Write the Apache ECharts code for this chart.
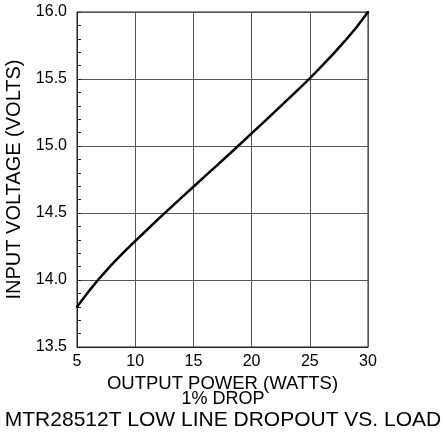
<!DOCTYPE html>
<html>
<head>
<meta charset="utf-8">
<script src="https://cdn.jsdelivr.net/npm/echarts@6/dist/echarts.min.js"></script>
<style>
html,body{margin:0;padding:0;background:#fff;}
#chart{width:446px;height:433px;}
</style>
</head>
<body>
<div id="chart"></div>
<script>
var outputPower = [5,6,7,8,9,10,11,12,13,14,15,16,17,18,19,20,21,22,23,24,25,26,27,28,29,30];
var inputVoltage = [13.800,13.915,14.020,14.116,14.206,14.290,14.373,14.456,14.537,14.617,14.696,14.775,14.854,14.933,15.013,15.094,15.175,15.256,15.338,15.421,15.505,15.594,15.686,15.782,15.884,16.000];
var titleText = 'MTR28512T LOW LINE DROPOUT VS. LOAD';
var subText = '1% DROP';
var xName = 'OUTPUT POWER (WATTS)';
var yName = 'INPUT VOLTAGE (VOLTS)';

var FONT = '"Liberation Sans", Arial, Helvetica, sans-serif';
var chart = echarts.init(document.getElementById('chart'));
var pts = outputPower.map(function(x,i){return [x, inputVoltage[i]];});
chart.setOption({
  animation:false,
  backgroundColor:'#fff',
  textStyle:{fontFamily:FONT},
  title:[{
    text:subText, left:'center', top:390, padding:0,
    textStyle:{fontSize:18, fontWeight:'normal', color:'#000', fontFamily:FONT, lineHeight:18}
  },{
    text:titleText, left:'center', top:409.5, padding:0,
    textStyle:{fontSize:21, fontWeight:'normal', color:'#000', fontFamily:FONT, lineHeight:21}
  }],
  grid:{left:77, right:78, top:12, bottom:86, show:true, borderColor:'#222', borderWidth:1,
        containLabel:false, outerBoundsMode:'none'},
  xAxis:{
    type:'value', min:5, max:30, interval:5,
    name:xName, nameLocation:'middle', nameGap:22.5,
    nameTextStyle:{fontSize:18.5, color:'#000', lineHeight:18, fontFamily:FONT},
    axisLine:{show:true, lineStyle:{color:'#222', width:1}},
    axisTick:{show:false},
    axisLabel:{fontSize:16, color:'#000', margin:7, fontFamily:FONT},
    splitLine:{show:true, lineStyle:{color:'#555', width:1}}
  },
  yAxis:{
    type:'value', min:13.5, max:16, interval:0.5,
    name:yName, nameLocation:'middle', nameGap:52,
    nameTextStyle:{fontSize:20, color:'#000', fontFamily:FONT},
    axisLine:{show:true, lineStyle:{color:'#222', width:1}},
    axisTick:{show:true, inside:true, length:4, lineStyle:{color:'#222'}},
    minorTick:{show:true, splitNumber:5, length:4, lineStyle:{color:'#222', width:1}},
    axisLabel:{fontSize:16, color:'#000', margin:10, fontFamily:FONT,
      formatter:function(v){return v.toFixed(1);}},
    splitLine:{show:true, lineStyle:{color:'#555', width:1}}
  },
  series:[{
    type:'line', data:pts, smooth:false, showSymbol:false,
    lineStyle:{color:'#000', width:2.5, join:'round', cap:'round'}
  }]
});
</script>
</body>
</html>
